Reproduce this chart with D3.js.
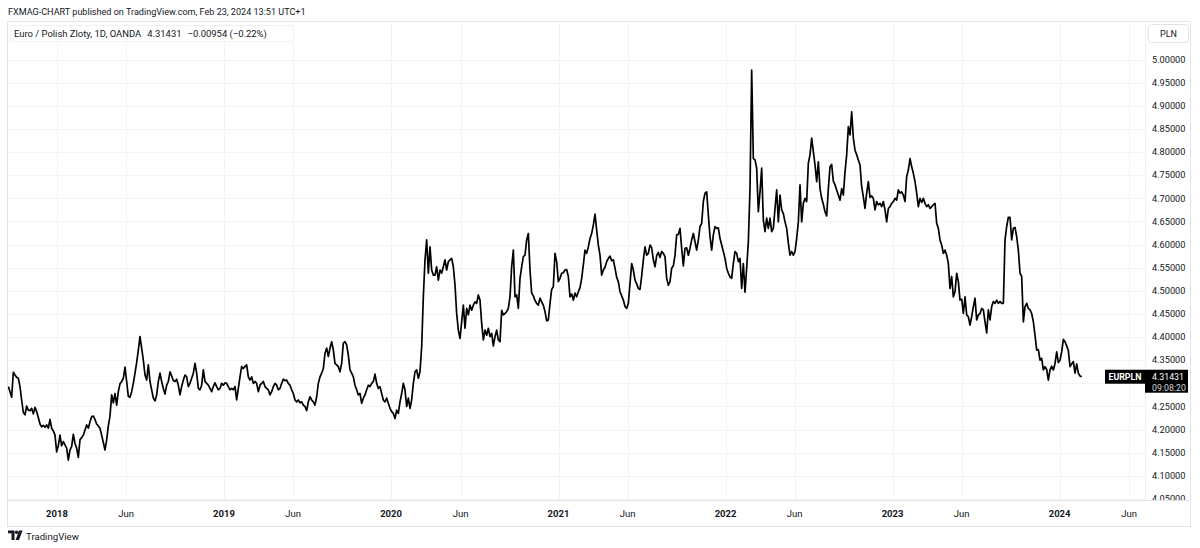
<!DOCTYPE html>
<html><head><meta charset="utf-8">
<script src="https://cdn.jsdelivr.net/npm/d3@7"></script>
<style>
body{margin:0;background:#fff;}
svg{display:block;}
text{font-family:Roboto,"Liberation Sans",Arial,sans-serif;}
</style>
</head><body>
<svg id="c" width="1200" height="548"></svg>
<script>
// ---------------- DATA ----------------
const headerText = "FXMAG-CHART published on TradingView.com, Feb 23, 2024 13:51 UTC+1";
const legendParts = ["Euro / Polish Zloty, 1D, OANDA", "4.31431", "\u22120.00954 (\u22120.22%)"];
const symbol = "EURPLN";
const lastPrice = 4.31431;
const lastPriceText = "4.31431";
const countdownText = "09:08:20";
const currencyText = "PLN";

const SERIES_START = "2017-09-16T15:00:00Z";
const STEP_DAYS = 3.6423;
const eurpln = [
4.293,4.282,4.270,4.324,4.318,4.313,4.311,4.293,4.264,4.237,
4.232,4.251,4.242,4.241,4.246,4.234,4.248,4.239,4.226,4.212,
4.206,4.209,4.205,4.210,4.203,4.222,4.203,4.197,4.188,4.152,
4.165,4.188,4.165,4.174,4.167,4.160,4.134,4.156,4.163,4.190,
4.170,4.160,4.140,4.178,4.183,4.188,4.199,4.210,4.203,4.217,
4.228,4.229,4.222,4.212,4.208,4.203,4.188,4.172,4.156,4.178,
4.208,4.229,4.275,4.258,4.278,4.253,4.282,4.299,4.304,4.311,
4.335,4.304,4.272,4.270,4.282,4.300,4.322,4.345,4.372,4.401,
4.376,4.350,4.318,4.307,4.340,4.304,4.286,4.268,4.262,4.275,
4.304,4.322,4.304,4.289,4.277,4.296,4.304,4.325,4.316,4.306,
4.304,4.309,4.296,4.275,4.293,4.307,4.318,4.314,4.293,4.300,
4.311,4.322,4.343,4.322,4.289,4.286,4.296,4.329,4.304,4.300,
4.296,4.289,4.282,4.293,4.301,
4.293,4.286,4.289,4.300,4.296,4.301,4.300,4.293,4.286,4.289,
4.286,4.293,4.264,4.289,4.314,4.336,4.332,4.336,4.340,4.314,
4.307,4.314,4.300,4.304,4.300,4.282,4.296,4.300,4.304,4.293,
4.289,4.286,4.275,4.282,4.293,4.300,4.296,4.286,4.289,4.300,
4.309,4.306,4.307,4.300,4.296,4.286,4.278,4.264,4.260,4.264,
4.258,4.260,4.253,4.250,4.241,4.260,4.271,4.264,4.260,4.253,
4.271,4.300,4.314,4.322,4.332,4.365,4.376,4.358,4.376,4.390,
4.372,4.343,4.340,4.336,4.325,4.343,4.387,4.390,4.383,4.361,
4.329,4.322,4.314,4.296,4.286,4.275,4.278,4.257,4.268,4.275,
4.286,4.296,4.293,4.300,4.304,4.320,4.300,4.289,4.293,4.278,
4.264,4.260,4.268,4.257,4.246,4.239,4.235,4.224,4.242,4.235,
4.260,4.278,4.300,4.286,4.250,4.268,4.246,4.264,4.300,4.325,
4.329,4.311,4.325,4.379,4.487,4.567,4.610,4.538,4.595,4.545,
4.534,
4.534,4.552,4.523,4.545,4.538,4.552,4.567,4.545,4.563,
4.567,4.570,4.552,4.513,4.451,4.415,4.397,4.433,4.469,4.419,
4.462,4.448,4.469,4.458,4.469,4.476,4.473,4.491,4.480,4.430,
4.394,4.415,4.404,4.419,4.401,4.408,4.381,4.401,4.415,4.394,
4.390,4.458,4.448,4.451,4.455,4.462,4.487,4.552,4.588,4.487,
4.491,4.462,4.527,4.552,4.574,4.577,4.610,4.624,4.545,4.495,
4.489,4.479,4.473,4.469,4.484,4.476,4.469,4.455,4.435,4.437,
4.473,4.503,4.509,4.581,4.563,4.520,4.527,4.538,4.539,4.545,
4.546,4.531,4.487,4.493,4.480,4.495,4.487,4.498,4.507,4.527,
4.556,4.588,4.581,4.595,4.613,4.624,4.642,4.666,4.631,4.599,
4.577,4.534,4.545,4.551,4.563,4.570,4.575,4.565,4.567,4.549,
4.529,4.520,4.498,4.489,4.480,4.466,4.462,4.473,4.516,4.559,
4.545,4.523,4.515,4.505,4.503,4.532,4.567,
4.595,4.577,4.581,4.599,4.593,4.567,4.552,4.576,4.583,4.572,
4.585,4.581,4.574,4.527,4.512,4.520,4.549,4.554,4.577,4.621,
4.622,4.635,4.592,4.554,4.592,4.593,4.577,4.592,4.610,4.624,
4.606,4.588,4.610,4.639,4.646,4.693,4.711,4.714,4.664,4.617,
4.588,4.621,4.639,4.635,4.636,4.613,4.599,4.585,4.570,4.549,
4.538,4.530,4.527,4.559,4.585,4.581,4.563,4.570,4.505,4.559,
4.497,4.549,4.606,4.721,4.977,4.786,4.783,4.765,4.671,4.714,
4.765,4.653,4.628,4.657,4.635,4.657,4.628,4.635,4.678,4.718,
4.649,4.707,4.675,4.667,4.649,4.635,4.603,4.577,4.585,4.577,
4.585,4.613,4.649,4.729,4.649,4.689,4.700,4.693,4.776,4.794,
4.830,4.801,4.772,4.736,4.779,4.721,4.700,4.687,4.671,4.662,
4.721,4.768,4.773,4.737,4.729,4.718,4.707,4.696,4.721,4.707,
4.757,4.794,4.855,4.837,4.887,4.830,4.804,4.794,4.783,4.772,
4.725,4.703,4.678,4.711,4.736,4.702,4.705,4.700,4.675,
4.693,4.686,4.689,4.682,4.693,4.675,4.649,4.678,4.682,4.689,
4.693,4.700,4.696,4.718,4.711,4.714,4.707,4.693,4.747,4.761,
4.786,4.768,4.754,4.736,4.711,4.682,4.700,4.691,4.700,4.689,
4.682,4.686,4.678,4.682,4.686,4.689,4.646,4.635,4.610,4.599,
4.581,4.588,4.577,4.559,4.505,4.531,4.487,4.498,4.538,4.520,
4.480,4.482,4.451,4.487,4.448,4.444,4.426,4.444,4.466,4.484,
4.437,4.448,4.451,4.462,4.459,4.433,4.409,4.459,4.437,4.466,
4.477,4.473,4.480,4.473,4.477,4.473,4.473,4.610,4.639,4.659,
4.659,4.610,4.635,4.637,4.617,4.588,4.538,4.531,4.433,4.466,
4.473,4.462,4.459,4.451,4.433,4.404,4.372,4.373,4.350,4.354,
4.329,4.336,4.330,4.307,4.329,4.337,4.329,4.343,4.368,4.345,
4.350,4.368,4.395,4.390,4.381,4.371,4.336,4.342,4.347,4.322,
4.342,4.322,4.316,4.314
];

const yTickValues = [5.00,4.95,4.90,4.85,4.80,4.75,4.70,4.65,4.60,4.55,4.50,4.45,4.40,4.35,4.30,4.25,4.20,4.15,4.10,4.05];
const xTickDates = ["2018-01-01","2018-06-01","2019-01-01","2019-06-01","2020-01-01","2020-06-01","2021-01-01","2021-06-01","2022-01-01","2022-06-01","2023-01-01","2023-06-01","2024-01-01","2024-06-01"];
const xTickLabels = ["2018","Jun","2019","Jun","2020","Jun","2021","Jun","2022","Jun","2023","Jun","2024","Jun"];

// ---------------- LAYOUT ----------------
const svg = d3.select("#c");
const frame = {left:7, right:1190, top:21, bottom:526};
const plot = {left:7, right:1145, top:22, bottom:500};
const ink = "#131722", grid = "#f2f3f6", border = "#e0e3eb";

const t0 = new Date(SERIES_START).getTime();
const data = eurpln.map((v,i)=>({date:new Date(t0 + i*STEP_DAYS*86400000), value:v}));

const x = d3.scaleUtc().domain([new Date("2018-01-01"), new Date("2024-01-01")]).range([57, 1059.6]);
const y = d3.scaleLinear().domain([4.05, 5.00]).range([499, 59.5]);

function fit(sel, w){ const L = sel.node().getComputedTextLength(); const fs = parseFloat(sel.attr("font-size")); sel.attr("font-size", fs*w/L); }

// header
const hdr = svg.append("text").attr("x",8).attr("y",15).attr("font-size",10).attr("fill",ink).text(headerText);
fit(hdr, 298);

// frame
svg.append("rect").attr("x",frame.left+0.5).attr("y",frame.top+0.5).attr("width",frame.right-frame.left).attr("height",frame.bottom-frame.top).attr("fill","none").attr("stroke",border);

// grid
const gGrid = svg.append("g");
gGrid.selectAll("line.h").data(yTickValues).join("line")
  .attr("x1",plot.left+1).attr("x2",plot.right).attr("y1",d=>Math.round(y(d))+0.5).attr("y2",d=>Math.round(y(d))+0.5)
  .attr("stroke",grid);
gGrid.selectAll("line.v").data(xTickDates).join("line")
  .attr("y1",plot.top+1).attr("y2",plot.bottom).attr("x1",d=>Math.round(x(new Date(d)))+0.5).attr("x2",d=>Math.round(x(new Date(d)))+0.5)
  .attr("stroke",grid);

// price axis separator & time axis line
svg.append("line").attr("x1",plot.right+0.5).attr("x2",plot.right+0.5).attr("y1",frame.top).attr("y2",plot.bottom).attr("stroke","#f0f1f4");
svg.append("line").attr("x1",frame.left).attr("x2",frame.right).attr("y1",plot.bottom+0.5).attr("y2",plot.bottom+0.5).attr("stroke",border);

// legend
svg.append("rect").attr("x",10.5).attr("y",25.5).attr("width",283).attr("height",16).attr("rx",2).attr("fill","#fff").attr("stroke","#f0f1f4");
const leg = svg.append("text").attr("x",14).attr("y",37).attr("font-size",10).attr("fill",ink);
leg.append("tspan").text(legendParts[0]);
leg.append("tspan").attr("dx",6).text(legendParts[1]);
leg.append("tspan").attr("dx",6).text(legendParts[2]);
fit(leg, 241);

// line
svg.append("clipPath").attr("id","pc").append("rect").attr("x",plot.left+1).attr("y",plot.top+1).attr("width",plot.right-plot.left-1).attr("height",plot.bottom-plot.top-1);
svg.append("path").datum(data).attr("clip-path","url(#pc)")
  .attr("fill","none").attr("stroke","#000").attr("stroke-width",1.7).attr("stroke-linejoin","round")
  .attr("d", d3.line().x(d=>x(d.date)).y(d=>y(d.value)));

// price axis labels (labels hidden under the last-price box are skipped, as in the reference)
const ly = y(lastPrice);
svg.append("clipPath").attr("id","ac").append("rect").attr("x",plot.right+1).attr("y",frame.top).attr("width",frame.right-plot.right-1).attr("height",plot.bottom-frame.top);
const gA = svg.append("g").attr("clip-path","url(#ac)");
gA.selectAll("text").data(yTickValues.filter(d=>Math.abs(y(d)-(ly+4.5))>16)).join("text")
  .attr("x",1152).attr("y",d=>y(d)).attr("dy","0.35em").attr("font-size",9.2).attr("fill",ink)
  .text(d=>d3.format(".5f")(d));

// PLN box
svg.append("rect").attr("x",1148.5).attr("y",24.5).attr("width",40).attr("height",18).attr("rx",3).attr("fill","#fff").attr("stroke",border);
svg.append("text").attr("x",1168.5).attr("y",33.5).attr("dy","0.35em").attr("text-anchor","middle").attr("font-size",9).attr("fill",ink).text(currencyText);

// time axis labels
svg.append("g").selectAll("text").data(xTickDates).join("text")
  .attr("x",d=>x(new Date(d))).attr("y",513.5).attr("dy","0.35em").attr("text-anchor","middle")
  .attr("font-size",9.5).attr("font-weight",(d,i)=>xTickLabels[i]==="Jun"?400:700).attr("fill",ink)
  .text((d,i)=>xTickLabels[i]);

// last price labels
svg.append("rect").attr("x",1105).attr("y",ly-7).attr("width",40).attr("height",14).attr("fill","#000");
svg.append("text").attr("x",1125).attr("y",ly).attr("dy","0.35em").attr("text-anchor","middle").attr("font-size",8.8).attr("font-weight",700).attr("fill","#fff").text(symbol);
svg.append("rect").attr("x",1145).attr("y",ly-7).attr("width",43).attr("height",23).attr("fill","#000");
svg.append("text").attr("x",1152).attr("y",ly).attr("dy","0.35em").attr("font-size",8.8).attr("fill","#fff").text(lastPriceText);
svg.append("text").attr("x",1152).attr("y",ly+11).attr("dy","0.35em").attr("font-size",8.8).attr("fill","#d1d4dc").text(countdownText);

// TradingView logo
const gl = svg.append("g").attr("fill",ink);
gl.append("path").attr("d","M8,530.5 h6.5 v9.5 h-3 v-6.8 h-3.5 z");
gl.append("circle").attr("cx",16.6).attr("cy",532.2).attr("r",1.7);
gl.append("path").attr("d","M19,530.5 h3.6 l-3.6,9.5 h-3.4 z");
const tvt = svg.append("text").attr("x",26).attr("y",539.5).attr("font-size",11).attr("fill",ink).text("TradingView");
fit(tvt, 53);
</script>
</body></html>
